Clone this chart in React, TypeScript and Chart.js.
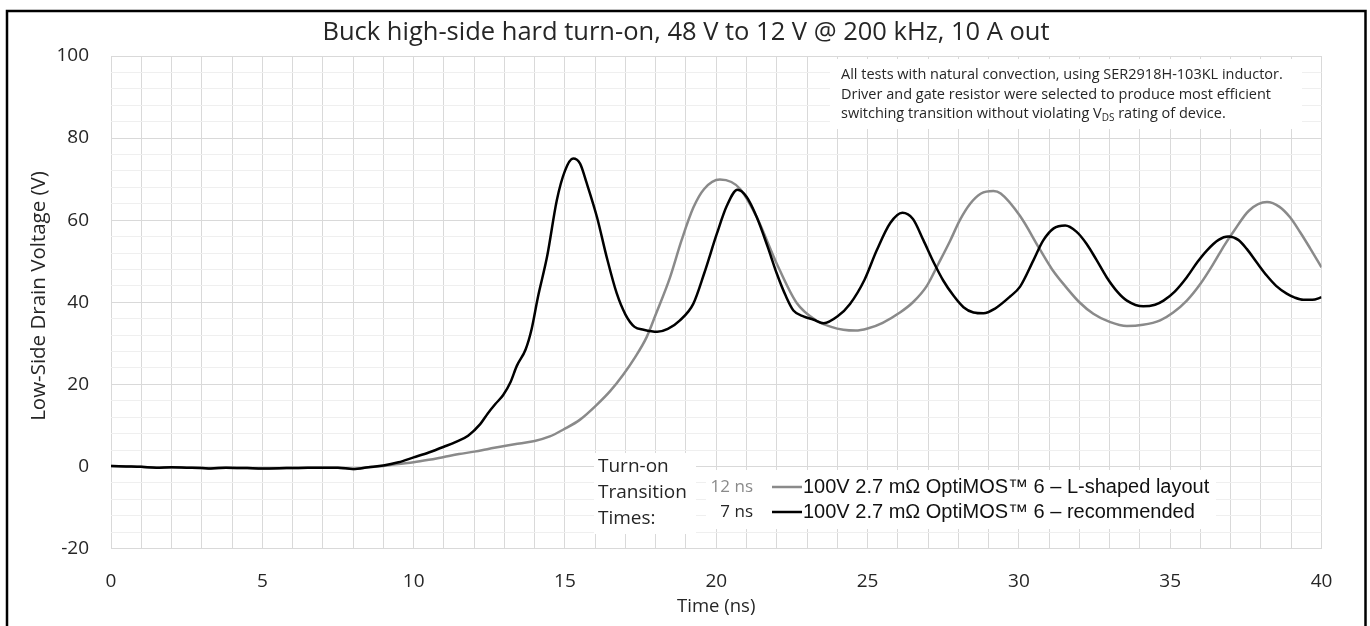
import React, { useEffect, useRef } from 'react';
import { Chart, registerables } from 'chart.js';

Chart.register(...registerables);

// ---------- text ----------
const TITLE = 'Buck high-side hard turn-on, 48 V to 12 V @ 200 kHz, 10 A out';
const X_TITLE = 'Time (ns)';
const Y_TITLE = 'Low-Side Drain Voltage (V)';
const seriesNames = [
  '100V 2.7 mΩ OptiMOS™ 6 – L-shaped layout',
  '100V 2.7 mΩ OptiMOS™ 6 – recommended',
];
const transitionTimes = ['12 ns', '7 ns'];
const legendHeading = ['Turn-on', 'Transition', 'Times:'];
const noteLine1 = 'All tests with natural convection, using SER2918H-103KL inductor.';
const noteLine2 = 'Driver and gate resistor were selected to produce most efficient';
const noteLine3a = 'switching transition without violating V';
const noteLine3sub = 'DS';
const noteLine3b = ' rating of device.';

// ---------- axes ----------
const X_MIN = 0;
const X_MAX = 40;
const X_GRID_STEP = 1;
const X_LABEL_EVERY = 5;
const Y_MIN = -20;
const Y_MAX = 100;
const Y_GRID_STEP = 4;
const Y_LABEL_EVERY = 20;

// ---------- data: 100V 2.7 mΩ OptiMOS 6 – L-shaped layout (grey) ----------
const timeLShaped = [
  0, 0.5, 1, 1.5, 2, 2.5, 3, 3.3, 3.8, 4.5, 5, 5.8, 6.5, 7, 7.5, 8, 8.5, 9,
  9.5, 10, 10.5, 11, 11.5, 12, 12.5, 13, 13.5, 14, 14.5, 14.95, 15.5, 16.05, 16.5, 16.93,
  17.3, 17.7, 18.0, 18.47, 18.85, 19.24, 19.6, 20.12, 20.5, 20.79, 21.34, 22.0, 22.66, 23.32,
  23.8, 24.2, 24.6, 25.0, 25.5, 26.07, 26.5, 26.96, 27.35, 27.73, 28.05, 28.39, 28.75, 29.16,
  29.4, 30.04, 30.7, 31.1, 31.58, 32.0, 32.46, 33.0, 33.57, 34.1, 34.67, 35.1, 35.55, 36.0,
  36.43, 36.8, 37.1, 37.6, 38.2, 38.6, 38.96, 39.3, 39.62, 40.0,
];
const voltageLShaped = [
  0.1, 0.0, -0.1, -0.3, -0.2, -0.3, -0.4, -0.5, -0.3, -0.4, -0.5, -0.4, -0.3, -0.3, -0.3, -0.6, -0.2, 0.1,
  0.6, 1.0, 1.6, 2.3, 3.0, 3.6, 4.3, 5.0, 5.6, 6.2, 7.3, 9.0, 11.4, 15.0, 18.4, 22.4,
  26.4, 31.5, 37.0, 46.0, 55.0, 63.0, 67.6, 69.9, 69.3, 67.6, 60.7, 49.4, 39.8, 35.5,
  34.0, 33.3, 33.1, 33.6, 35.0, 37.5, 40.0, 44.0, 49.5, 55.0, 60.0, 64.0, 66.5, 67.1,
  66.5, 61.0, 52.8, 48.0, 43.5, 40.0, 37.2, 35.2, 34.2, 34.5, 35.6, 37.5, 40.4, 44.5,
  49.4, 54.0, 57.3, 62.3, 64.4, 63.3, 60.7, 57.0, 53.2, 48.5,
];

// ---------- data: 100V 2.7 mΩ OptiMOS 6 – recommended (black) ----------
const timeRecommended = [
  0, 0.5, 1, 1.5, 2, 2.5, 3, 3.3, 3.8, 4.5, 5, 5.8, 6.5, 7, 7.5, 8, 8.5, 9,
  9.5, 10, 10.5, 11, 11.4, 11.8, 12.2, 12.45, 12.7, 12.96, 13.2, 13.41, 13.7, 13.9, 14.1, 14.42,
  14.73, 15.0, 15.27, 15.5, 15.72, 16.06, 16.38, 16.71, 17.0, 17.3, 17.6, 18.05, 18.4, 18.8,
  19.24, 19.6, 20.02, 20.35, 20.7, 21.0, 21.34, 21.7, 22.0, 22.3, 22.55, 22.9, 23.2, 23.55,
  24.0, 24.42, 24.9, 25.3, 25.75, 26.15, 26.5, 26.84, 27.2, 27.5, 27.85, 28.17, 28.5, 28.83,
  29.2, 29.71, 30.04, 30.48, 30.8, 31.15, 31.53, 31.9, 32.24, 32.55, 32.9, 33.25, 33.57, 34.11,
  34.5, 34.78, 35.15, 35.55, 35.9, 36.21, 36.6, 36.92, 37.25, 37.53, 37.85, 38.19, 38.5, 38.85,
  39.1, 39.4, 39.7, 40.0,
];
const voltageRecommended = [
  0.1, 0.0, -0.1, -0.3, -0.2, -0.3, -0.4, -0.5, -0.3, -0.4, -0.5, -0.4, -0.3, -0.3, -0.3, -0.6, -0.2, 0.2,
  1.0, 2.2, 3.4, 4.8, 6.0, 7.5, 10.3, 12.9, 15.2, 17.4, 20.5, 24.5, 28.5, 33.5, 41.0, 51.5,
  64.8, 72.0, 75.0, 73.8, 69.0, 60.7, 51.0, 42.2, 37.0, 34.0, 33.3, 32.8, 33.5, 35.6,
  39.6, 47.0, 56.7, 63.5, 67.4, 65.7, 60.7, 53.5, 47.0, 41.5, 38.0, 36.5, 35.8, 34.9,
  36.5, 39.6, 45.5, 52.6, 59.3, 61.8, 60.3, 55.2, 49.5, 45.3, 41.5, 38.8, 37.5, 37.3,
  38.4, 41.4, 43.8, 50.2, 55.0, 58.0, 58.7, 57.2, 54.2, 50.5, 46.1, 42.6, 40.4, 39.0,
  39.4, 40.4, 42.6, 46.1, 49.8, 52.6, 55.2, 56.0, 55.2, 53.0, 49.8, 46.5, 44.0, 42.1,
  41.2, 40.6, 40.6, 41.2,
];

// ---------- styles ----------
const GREY = '#8a8a8a';
const BLACK = '#000000';
const TEXT = '#262626';
const GRID_MAJOR = '#d9d9d9';
const GRID_MINOR = '#efefef';
const CALIBRI_LIKE = '"Open Sans"';

function range(min: number, max: number, step: number): number[] {
  const out: number[] = [];
  for (let v = min; v <= max + 1e-9; v += step) out.push(Math.round(v * 1000) / 1000);
  return out;
}
const xTickValues = range(X_MIN, X_MAX, X_GRID_STEP);
const yTickValues = range(Y_MIN, Y_MAX, Y_GRID_STEP);

const overlayPlugin = {
  id: 'overlay',
  afterDraw(chart: any) {
    const ctx: CanvasRenderingContext2D = chart.ctx;
    ctx.save();

    // outer frame
    ctx.strokeStyle = '#000';
    ctx.lineWidth = 2.5;
    ctx.strokeRect(7, 11, 1358.5, 640);

    // title
    ctx.fillStyle = TEXT;
    ctx.font = `25.5px ${CALIBRI_LIKE}`;
    ctx.textAlign = 'center';
    ctx.textBaseline = 'middle';
    ctx.fillText(TITLE, 686, 33);

    // y axis title
    ctx.save();
    ctx.translate(39, 296);
    ctx.rotate(-Math.PI / 2);
    ctx.font = `20.5px ${CALIBRI_LIKE}`;
    ctx.fillText(Y_TITLE, 0, 0);
    ctx.restore();

    // note box
    ctx.fillStyle = '#ffffff';
    ctx.fillRect(830, 59, 472, 70);
    ctx.fillStyle = TEXT;
    ctx.font = `14.5px ${CALIBRI_LIKE}`;
    ctx.textAlign = 'left';
    ctx.textBaseline = 'middle';
    ctx.fillText(noteLine1, 841, 75);
    ctx.fillText(noteLine2, 841, 94.5);
    let x = 841;
    ctx.fillText(noteLine3a, x, 114);
    x += ctx.measureText(noteLine3a).width;
    ctx.font = `10px ${CALIBRI_LIKE}`;
    ctx.fillText(noteLine3sub, x, 118);
    x += ctx.measureText(noteLine3sub).width;
    ctx.font = `14.5px ${CALIBRI_LIKE}`;
    ctx.fillText(noteLine3b, x, 114);

    // legend boxes
    ctx.fillStyle = '#ffffff';
    ctx.fillRect(594, 453, 102, 81);
    ctx.fillRect(706, 470, 510, 59);

    // legend heading
    ctx.fillStyle = TEXT;
    ctx.font = `19px ${CALIBRI_LIKE}`;
    ctx.textAlign = 'left';
    ctx.fillText(legendHeading[0], 598, 467);
    ctx.fillText(legendHeading[1], 598, 493);
    ctx.fillText(legendHeading[2], 598, 519);

    const colors = [GREY, BLACK];
    const rowsY = [487, 512];
    for (let i = 0; i < 2; i++) {
      ctx.font = `17px ${CALIBRI_LIKE}`;
      ctx.textAlign = 'right';
      ctx.fillStyle = i === 0 ? GREY : TEXT;
      ctx.fillText(transitionTimes[i], 753, rowsY[i]);
      ctx.strokeStyle = colors[i];
      ctx.lineWidth = 2.5;
      ctx.beginPath();
      ctx.moveTo(772, rowsY[i]);
      ctx.lineTo(802, rowsY[i]);
      ctx.stroke();
      ctx.font = '20px "Liberation Sans"';
      ctx.textAlign = 'left';
      ctx.fillStyle = '#111';
      ctx.fillText(seriesNames[i], 803, rowsY[i]);
    }
    ctx.restore();
  },
};

export default function App() {
  const canvasRef = useRef<HTMLCanvasElement | null>(null);

  useEffect(() => {
    if (!canvasRef.current) return;
    const lShaped = timeLShaped.map((t, i) => ({ x: t, y: voltageLShaped[i] }));
    const recommended = timeRecommended.map((t, i) => ({ x: t, y: voltageRecommended[i] }));

    const chart = new Chart(canvasRef.current, {
      type: 'line',
      data: {
        datasets: [
          {
            label: seriesNames[0],
            data: lShaped,
            borderColor: GREY,
            borderWidth: 2.5,
            pointRadius: 0,
            cubicInterpolationMode: 'monotone',
            order: 1,
          },
          {
            label: seriesNames[1],
            data: recommended,
            borderColor: BLACK,
            borderWidth: 2.5,
            pointRadius: 0,
            cubicInterpolationMode: 'monotone',
            order: 0,
          },
        ],
      },
      options: {
        responsive: false,
        animation: false,
        devicePixelRatio: 1,
        parsing: false,
        layout: { padding: { left: 0, top: 56, right: 48.5, bottom: 0 } },
        plugins: {
          legend: { display: false },
          title: { display: false },
          tooltip: { enabled: false },
        },
        scales: {
          x: {
            type: 'linear',
            min: X_MIN,
            max: X_MAX,
            afterBuildTicks: (scale: any) => {
              scale.ticks = xTickValues.map((v) => ({ value: v }));
            },
            afterFit: (scale: any) => {
              scale.height = 77.5;
            },
            ticks: {
              autoSkip: false,
              maxRotation: 0,
              padding: 22,
              color: TEXT,
              font: { family: 'Open Sans', size: 19 },
              callback: (v: any) => (Number(v) % X_LABEL_EVERY === 0 ? String(v) : ''),
            },
            grid: { color: GRID_MAJOR, lineWidth: 1, drawTicks: false },
            border: { display: false },
            title: {
              display: true,
              text: X_TITLE,
              color: TEXT,
              font: { family: 'Open Sans', size: 18.5 },
              padding: { top: 0, bottom: 8 },
            },
          },
          y: {
            type: 'linear',
            min: Y_MIN,
            max: Y_MAX,
            afterBuildTicks: (scale: any) => {
              scale.ticks = yTickValues.map((v) => ({ value: v }));
            },
            afterFit: (scale: any) => {
              scale.width = 111;
            },
            ticks: {
              autoSkip: false,
              padding: 22,
              color: TEXT,
              font: { family: 'Open Sans', size: 19 },
              callback: (v: any) => (Number(v) % Y_LABEL_EVERY === 0 ? String(v) : ''),
            },
            grid: {
              color: (c: any) => (c.tick && c.tick.value % Y_LABEL_EVERY === 0 ? GRID_MAJOR : GRID_MINOR),
              lineWidth: 1,
              drawTicks: false,
            },
            border: { display: false },
          },
        },
      },
      plugins: [overlayPlugin],
    });
    return () => chart.destroy();
  }, []);

  return (
    <div style={{ position: 'absolute', left: 0, top: 0, width: 1370, height: 626, background: '#fff' }}>
      <canvas ref={canvasRef} width={1370} height={626} style={{ display: 'block' }} />
    </div>
  );
}
